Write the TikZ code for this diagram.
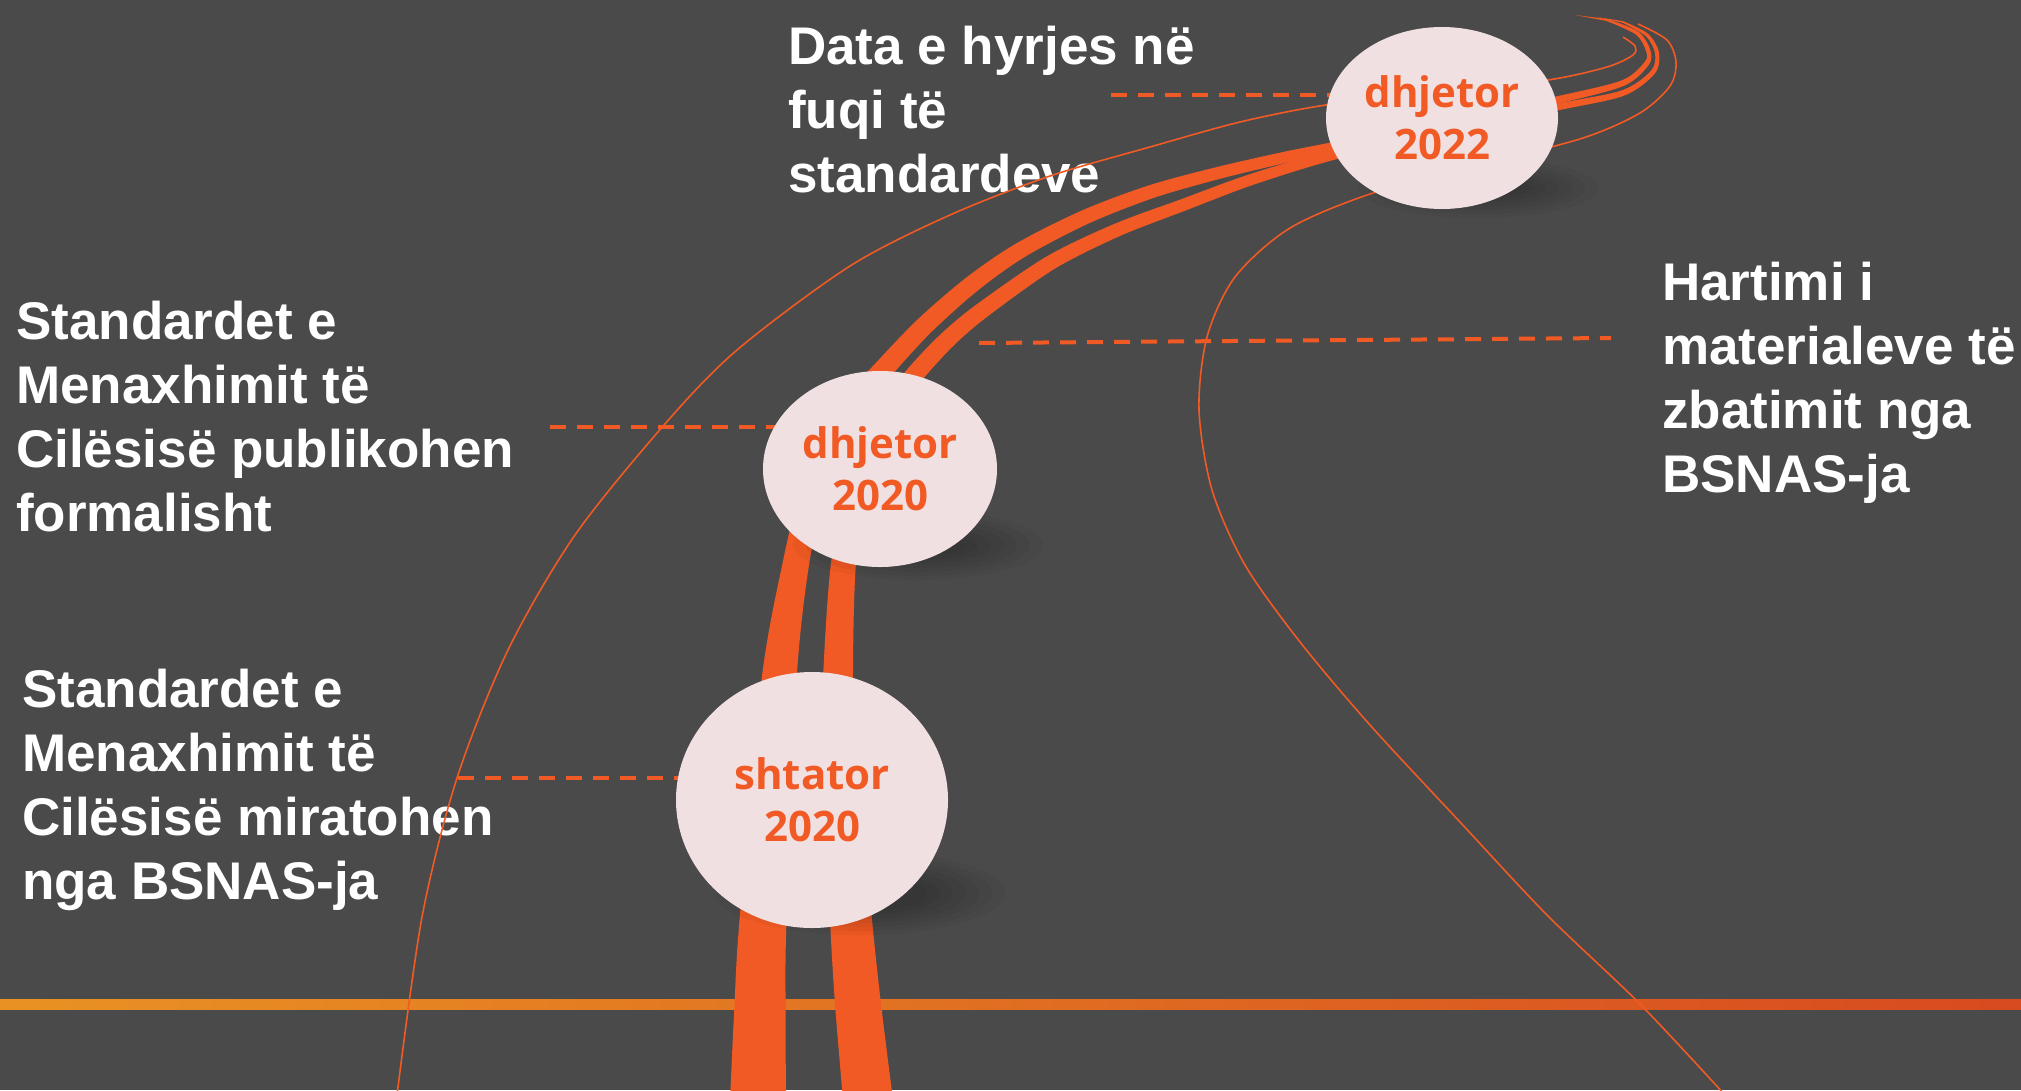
\documentclass[tikz,border=0pt]{standalone}
\usepackage{fontspec}
\newfontfamily\notefont{Liberation Sans}
\newfontfamily\datefont{Open Sans}
\usetikzlibrary{shapes.geometric}

\definecolor{slate}{RGB}{74,74,74}
\definecolor{roadorange}{RGB}{241,90,36}
\definecolor{blush}{RGB}{240,224,226}
\definecolor{bandleft}{RGB}{233,146,35}
\definecolor{bandright}{RGB}{216,74,32}

\tikzset{
  road/.style={fill=roadorange},
  trail/.style={draw=roadorange, line width=1.6pt},
  leader/.style={draw=roadorange, line width=4pt, dash pattern=on 16pt off 11pt},
  milestone/.style={ellipse, fill=blush, text=roadorange, inner sep=0pt, outer sep=0pt,
    align=center, font=\datefont\bfseries\fontsize{42}{52}\selectfont},
  note/.style={anchor=base west, inner sep=0pt, text=white,
    font=\notefont\bfseries\fontsize{53}{64}\selectfont}
}

\begin{document}
\begin{tikzpicture}[x=1pt,y=-1pt]

    % --- Frame ---
    \useasboundingbox (0,0) rectangle (2021,1090);
    \fill[slate] (0,0) rectangle (2021,1090);
    \clip (0,0) rectangle (2021,1090);

    % --- Coordinates ---
    % centres of the three milestones
    \coordinate (c1) at (812,800);
    \coordinate (c2) at (880,469);
    \coordinate (c3) at (1442,118);
    % free ends of the dashed leaders
    \coordinate (lead1) at (1111,95);
    \coordinate (lead2) at (550,427);
    \coordinate (lead3) at (458,778);
    \coordinate (lead4a) at (979,343);
    \coordinate (lead4b) at (1611,338);

    % --- Horizon band ---
    \shade[left color=bandleft, right color=bandright] (0,999.5) rectangle (2021,1009.5);

    % --- Notes ---
    \node[note] (entry) at (788,64) {\begin{tabular}[t]{@{}l@{}}Data e hyrjes në\\fuqi të\\standardeve\end{tabular}};
    \node[note] (publish) at (16,339) {\begin{tabular}[t]{@{}l@{}}Standardet e\\Menaxhimit të\\Cilësisë publikohen\\formalisht\end{tabular}};
    \node[note] (approve) at (22,707) {\begin{tabular}[t]{@{}l@{}}Standardet e\\Menaxhimit të\\Cilësisë miratohen\\nga BSNAS-ja\end{tabular}};
    \node[note] (drafting) at (1662,300) {\begin{tabular}[t]{@{}l@{}}Hartimi i\\materialeve të\\zbatimit nga\\BSNAS-ja\end{tabular}};

    % --- Thin trails ---
    \draw[trail] plot[smooth] coordinates {(397,1095) (422,917) (457,778) (508,650) (575,535)
      (664,425) (737,350) (850,266) (950,215) (1050,176) (1150,147) (1240,122) (1326,105)
      (1440,92) (1548,80) (1607,67) (1633,55) (1635,46) (1623,37)};
    \draw[trail] plot[smooth] coordinates {(1638,24) (1667,40) (1676,62) (1670,86) (1640,113)
      (1583,138) (1480,165) (1373,193) (1290,228) (1235,277) (1207,337) (1199,410) (1212,490)
      (1245,565) (1300,642) (1370,725) (1460,822) (1547,915) (1640,1004) (1725,1095)};

    % --- Roads (tapering bands, outline traced edge by edge) ---
    % left road
    \fill[road] plot[smooth] coordinates {(730,1100) (734.5,1004) (739.5,920) (761.5,680)
      (783,561) (800,492) (825,425.3) (849.7,391.6) (873.3,365.6) (917,320) (967,277)
      (1017,243) (1083,210) (1150,185) (1217,167) (1283,152) (1333,142) (1449.1,118.1)
      (1556.2,96.4) (1621.9,80.3) (1645,61.5) (1645.9,50.7) (1635.9,34.5) (1606.7,21)}
      -- (1575,15) --
      plot[smooth] coordinates {(1607.3,19) (1638.1,31.5) (1650.1,49.3) (1649,64.5)
      (1624.1,85.7) (1557.8,103.6) (1450.9,126.9) (1335,152.4) (1285.4,163) (1220,178.8)
      (1154,197.8) (1088.8,223.4) (1025,256.8) (977.4,290.8) (930.2,333.2) (888.7,378.4)
      (866.3,404.4) (845,435) (824,498) (809,565) (796.5,680) (786.5,920) (785.5,1004)
      (786,1100)} -- cycle;
    % right road
    \fill[road] plot[smooth] coordinates {(843,1100) (835,1004) (830,920) (823,760) (823,680)
      (831,563) (847.5,491.8) (870.8,436.1) (884.5,403.6) (904.8,372.3) (939,335.8)
      (975.1,305.5) (1046.2,256.7) (1114.3,223.9) (1180.9,199.3) (1248.2,174.7) (1331.8,150.2)
      (1449.1,123.8) (1556.3,103.6) (1622,90.3) (1651.2,70.5) (1655,53.3) (1645.9,36.2)
      (1622.7,22.8)}
      -- (1597,17) --
      plot[smooth] coordinates {(1623.3,21.2) (1648.1,33.8) (1659,52.7) (1654.8,73.5)
      (1624,95.7) (1557.7,110.4) (1450.9,132.2) (1334.2,159.8) (1251.8,185.3) (1185.1,210.7)
      (1119.7,236.1) (1053.8,269.3) (984.9,318.5) (951,348.2) (919.2,383.7) (901.5,412.4)
      (889.2,443.9) (868.5,498.2) (856,563) (853,680) (857,760) (872,920) (881,1004)
      (893,1100)} -- cycle;

    % --- Dashed leaders ---
    \draw[leader] (lead1) -- (lead1 -| c3);
    \draw[leader] (lead2) -- (lead2 -| c2);
    \draw[leader] (lead3) -- (lead3 -| c1);
    \draw[leader] (lead4a) -- (lead4b);

    % --- Soft shadows ---
    \foreach \sx/\sy/\rx/\ry in {860/893/145/42, 918/545/125/35, 1478/188/120/30}{
      \foreach \k in {0,...,6}{
        \fill[black, opacity=0.035] (\sx,\sy) ellipse ({\rx-\k*13} and {\ry-\k*4});
      }
    }

    % --- Milestones ---
    \node[milestone, minimum width=272pt, minimum height=256pt] (sep20) at (c1) {shtator\\2020};
    \node[milestone, minimum width=234pt, minimum height=196pt] (dec20) at (c2) {dhjetor\\2020};
    \node[milestone, minimum width=232pt, minimum height=182pt] (dec22) at (c3) {dhjetor\\2022};

\end{tikzpicture}
\end{document}
